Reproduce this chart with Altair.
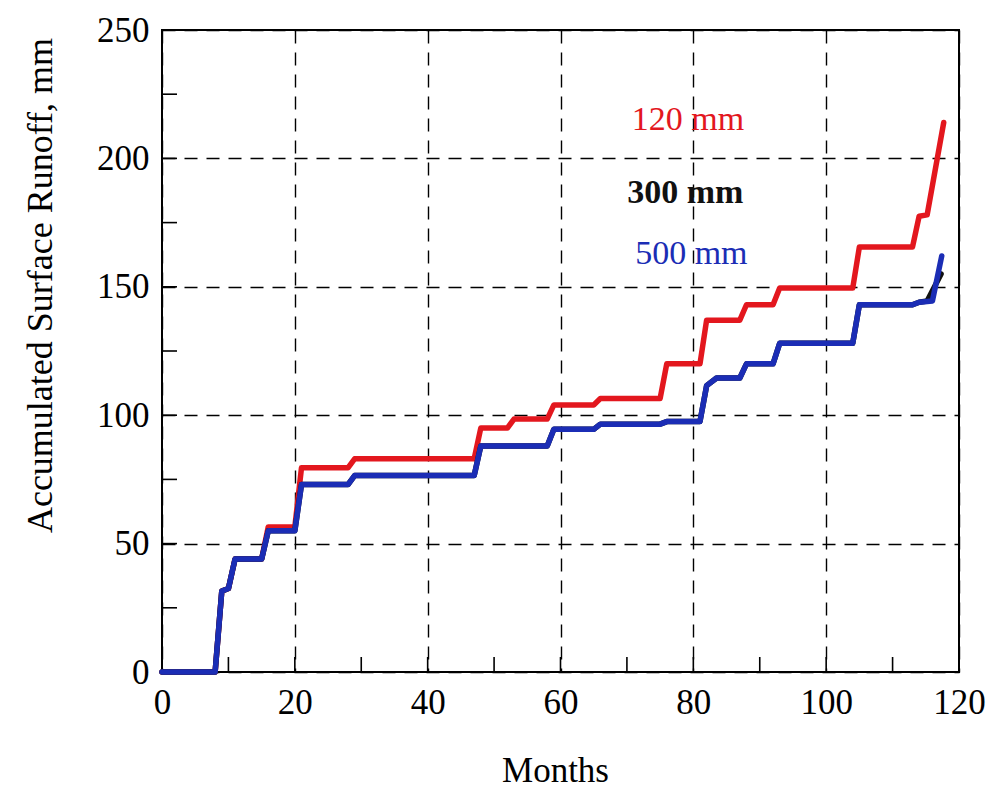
import altair as alt
import pandas as pd

# ---- data ----
months_120 = [0, 8, 9, 10, 11, 15, 16, 20, 21, 28, 29, 47, 48, 52, 53, 58, 59, 65, 66, 75,
              76, 81, 82, 87, 88, 92, 93, 104, 105, 113, 114, 115.2, 117.7]
runoff_120 = [0, 0, 31.5, 32.5, 44, 44, 56.5, 56.5, 79.5, 79.5, 83, 83, 95, 95, 98.5, 98.5, 104, 104, 106.5, 106.5,
              120, 120, 137, 137, 143, 143, 149.5, 149.5, 165.5, 165.5, 177.5, 178, 214]

months_300 = [0, 8, 9, 10, 11, 15, 16, 20, 21, 28, 29, 47, 48, 58, 59, 65, 66, 75, 76, 81,
              82, 83.5, 87, 88, 92, 93, 104, 105, 113, 114, 115.2, 117.3]
runoff_300 = [0, 0, 31.5, 32.5, 44, 44, 55, 55, 73, 73, 76.5, 76.5, 88, 88, 94.5, 94.5, 96.5, 96.5, 97.5, 97.5,
              111.5, 114.5, 114.5, 120, 120, 128, 128, 143, 143, 144, 144.5, 155]

months_500 = [0, 8, 9, 10, 11, 15, 16, 20, 21, 28, 29, 47, 48, 58, 59, 65, 66, 75, 76, 81,
              82, 83.5, 87, 88, 92, 93, 104, 105, 113, 114, 116, 117.4]
runoff_500 = [0, 0, 31.5, 32.5, 44, 44, 55, 55, 73, 73, 76.5, 76.5, 88, 88, 94.5, 94.5, 96.5, 96.5, 97.5, 97.5,
              111.5, 114.5, 114.5, 120, 120, 128, 128, 143, 143, 144, 144.5, 162]

label_texts = ["120 mm", "300 mm", "500 mm"]
label_months = [79.2, 78.8, 79.7]
label_runoff = [215, 186.5, 162.8]
label_colors = ["#e3171e", "#111111", "#1b2db5"]
label_weights = ["normal", "bold", "normal"]

x_major = [0, 20, 40, 60, 80, 100, 120]
y_major = [0, 50, 100, 150, 200, 250]
x_minor_ticks = [10, 20, 30, 40, 50, 60, 70, 80, 90, 100, 110]
y_minor_ticks = [25, 50, 75, 100, 125, 150, 175, 200, 225]

W, H = 797, 642
FONT = "Liberation Serif"

x_scale = alt.Scale(domain=[0, 120], nice=False, zero=False)
y_scale = alt.Scale(domain=[0, 250], nice=False, zero=False)

x_axis = alt.Axis(values=x_major, title="Months", grid=True, gridDash=[13, 9], gridColor="black",
                  gridWidth=1.4, gridOpacity=1, domain=False, ticks=False, tickSize=0,
                  labelFont=FONT, labelFontSize=35, labelColor="black", labelPadding=13,
                  labelFlush=False, titleFont=FONT, titleFontSize=35, titleFontWeight="normal",
                  titleColor="black", titleX=393, titleY=109, titleBaseline="alphabetic",
                  titleAlign="center")
y_axis = alt.Axis(values=y_major, title="Accumulated Surface Runoff, mm", grid=True, gridDash=[13, 9],
                  gridColor="black", gridWidth=1.4, gridOpacity=1, domain=False, ticks=False,
                  tickSize=0, labelFont=FONT, labelFontSize=35, labelColor="black", labelPadding=13,
                  labelFlush=False, titleFont=FONT, titleFontSize=36, titleFontWeight="normal",
                  titleColor="black", titleAngle=270, titleX=-111, titleY=255,
                  titleBaseline="alphabetic", titleAlign="center")


def series_df(ms, vs):
    return pd.DataFrame({"month": ms, "runoff": vs, "idx": list(range(len(ms)))})


def line_layer(ms, vs, color):
    return alt.Chart(series_df(ms, vs)).mark_line(
        color=color, strokeWidth=5.5, strokeJoin="round", strokeCap="round"
    ).encode(
        x=alt.X("month:Q", scale=x_scale, axis=x_axis),
        y=alt.Y("runoff:Q", scale=y_scale, axis=y_axis),
        order="idx:Q",
    )


red = line_layer(months_120, runoff_120, "#e3171e")
black = line_layer(months_300, runoff_300, "#111111")
blue = line_layer(months_500, runoff_500, "#1b2db5")

xticks = alt.Chart(pd.DataFrame({"month": x_minor_ticks})).mark_rule(
    color="black", strokeWidth=1.6
).encode(
    x=alt.X("month:Q", scale=x_scale, axis=x_axis),
    y=alt.value(H),
    y2=alt.value(H - 15),
)

yticks = alt.Chart(pd.DataFrame({"runoff": y_minor_ticks})).mark_rule(
    color="black", strokeWidth=1.6
).encode(
    y=alt.Y("runoff:Q", scale=y_scale, axis=y_axis),
    x=alt.value(0),
    x2=alt.value(15),
)

labels_df = pd.DataFrame({"text": label_texts, "month": label_months,
                          "runoff": label_runoff, "color": label_colors,
                          "weight": label_weights})


def label_layer(weight):
    return alt.Chart(labels_df).transform_filter(
        alt.datum.weight == weight
    ).mark_text(
        font=FONT, fontSize=34, align="center", baseline="middle", fontWeight=weight
    ).encode(
        x=alt.X("month:Q", scale=x_scale, axis=x_axis),
        y=alt.Y("runoff:Q", scale=y_scale, axis=y_axis),
        text="text:N",
        color=alt.Color("color:N", scale=None),
    )


chart = alt.layer(xticks, yticks, red, black, blue, label_layer("normal"), label_layer("bold")).properties(
    width=W,
    height=H,
    autosize=alt.AutoSizeParams(type="none"),
    padding={"left": 162, "top": 30, "right": 988 - 162 - W, "bottom": 791 - 30 - H},
    background="white",
).configure_view(stroke="black", strokeWidth=2)

chart.save("out.html", embed_options={"renderer": "svg", "actions": False})
